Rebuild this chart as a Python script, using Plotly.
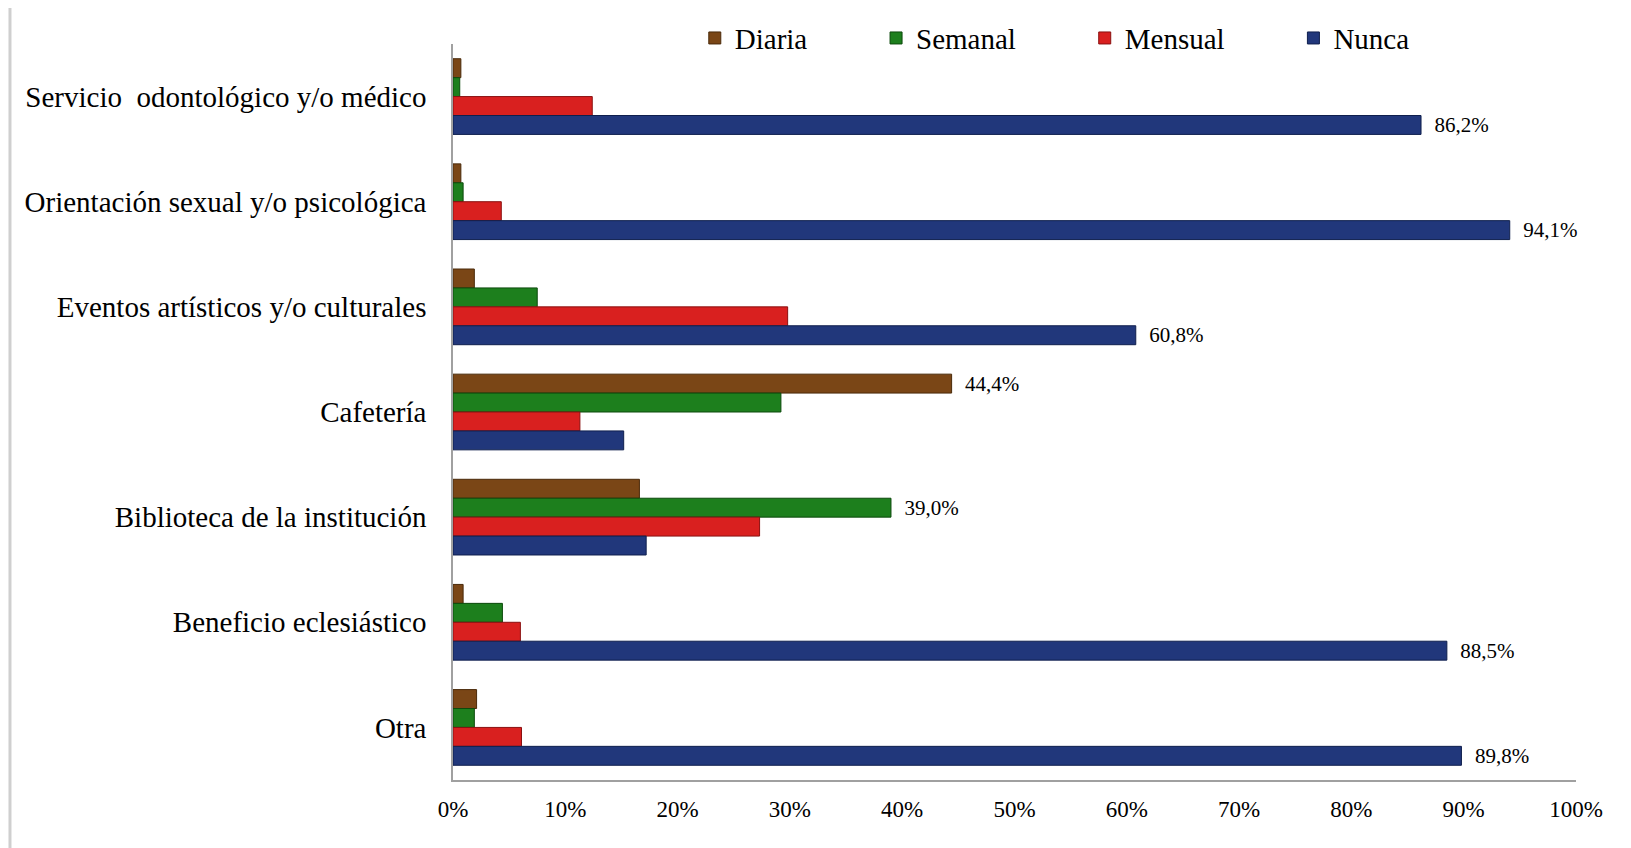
import plotly.graph_objects as go

categories = [
    "Servicio  odontológico y/o médico",
    "Orientación sexual y/o psicológica",
    "Eventos artísticos y/o culturales",
    "Cafetería",
    "Biblioteca de la institución",
    "Beneficio eclesiástico",
    "Otra",
]
diaria = [0.7, 0.7, 1.9, 44.4, 16.6, 0.9, 2.1]
semanal = [0.6, 0.9, 7.5, 29.2, 39.0, 4.4, 1.9]
mensual = [12.4, 4.3, 29.8, 11.3, 27.3, 6.0, 6.1]
nunca = [86.2, 94.1, 60.8, 15.2, 17.2, 88.5, 89.8]

labelled = {
    "Nunca": [True, True, True, False, False, True, True],
    "Mensual": [False] * 7,
    "Semanal": [False, False, False, False, True, False, False],
    "Diaria": [False, False, False, True, False, False, False],
}

series = [
    ("Diaria", diaria, "#7a4616", "#4a2a0a"),
    ("Semanal", semanal, "#1d7f1d", "#0c4a0c"),
    ("Mensual", mensual, "#d9201f", "#8a1010"),
    ("Nunca", nunca, "#21377b", "#0f1f4d"),
]

pad = "\u00a0" * 8 + "\u2009"

fig = go.Figure()
for name, vals, col, edge in series:
    txt = [("  " + f"{v:.1f}".replace(".", ",") + "%") if lab else ""
           for v, lab in zip(vals, labelled[name])]
    fig.add_trace(go.Bar(
        y=categories, x=[v / 100 for v in vals], name=name + pad,
        orientation="h",
        marker=dict(color=col, line=dict(color=edge, width=1)),
        text=txt, textposition="outside", cliponaxis=False,
        constraintext="none",
        textfont=dict(family="Liberation Serif", size=21, color="#000"),
        hovertemplate=name + ": %{x}<extra>%{y}</extra>",
    ))

fig.update_layout(
    width=1631, height=848,
    margin=dict(l=445, r=63, t=36, b=76, autoexpand=False),
    paper_bgcolor="white", plot_bgcolor="white",
    barmode="group", bargap=0.28, bargroupgap=0,
    font=dict(family="Liberation Serif", color="#000"),
    legend=dict(orientation="h", traceorder="normal",
                x=0.2153, xanchor="left", y=1.008, yanchor="middle",
                font=dict(size=29, family="Liberation Serif"),
                itemwidth=30, tracegroupgap=0,
                bgcolor="rgba(0,0,0,0)"),
    xaxis=dict(range=[0, 1], tickformat=".0%", dtick=0.1,
               showgrid=False, zeroline=False, showline=True,
               linecolor="#a0a0a0", linewidth=1.5, ticks="",
               tickfont=dict(size=23, family="Liberation Serif"),
               ticklabelstandoff=8),
    yaxis=dict(categoryorder="array", categoryarray=categories,
               autorange="reversed", showgrid=False, zeroline=False,
               showline=True, linecolor="#a0a0a0", linewidth=1.5, ticks="",
               tickfont=dict(size=29, family="Liberation Serif"),
               ticklabelstandoff=19),
    shapes=[dict(type="line", xref="paper", yref="paper",
                 x0=-0.3945, x1=-0.3945, y0=-0.103, y1=1.049,
                 line=dict(color="#cfcfcf", width=3))],
    showlegend=True,
)

fig.write_html("out.html")
